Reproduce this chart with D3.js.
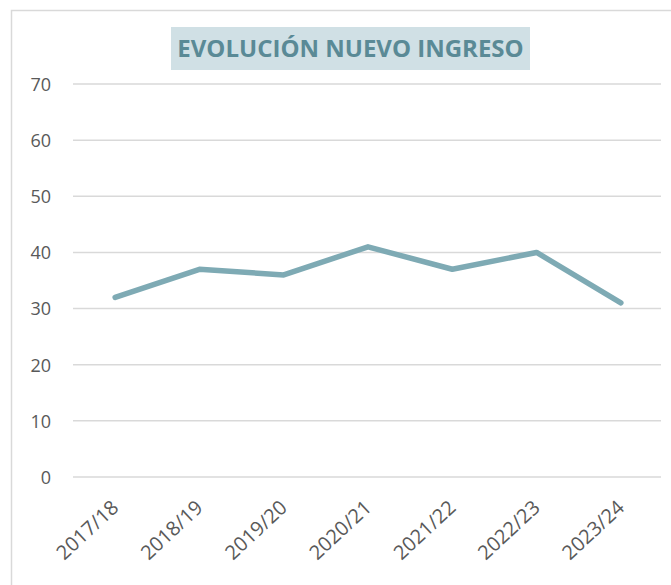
<!DOCTYPE html>
<html><head><meta charset="utf-8">
<script src="https://cdn.jsdelivr.net/npm/d3@7/dist/d3.min.js"></script>
<style>body{margin:0;background:#fff}svg{display:block}</style>
</head><body>
<svg id="c" width="671" height="585"></svg>
<script>
const categories = ["2017/18","2018/19","2019/20","2020/21","2021/22","2022/23","2023/24"];
const values = [32, 37, 36, 41, 37, 40, 31];
const yTicks = [0,10,20,30,40,50,60,70];
const title = "EVOLUCIÓN NUEVO INGRESO";

const svg = d3.select("#c");
const font = "'Open Sans', 'Noto Sans', sans-serif";

// chart border (left & top visible)
svg.append("path").attr("d","M11.5,590 V10.5 H680").attr("fill","none").attr("stroke","#d9d9d9").attr("stroke-width",1.5);

const x = d3.scaleBand().domain(categories).range([73,663]);
const y = d3.scaleLinear().domain([0,70]).range([477,84]);

// gridlines
svg.append("g").selectAll("line").data(yTicks).join("line")
  .attr("x1",73).attr("x2",661)
  .attr("y1",d=>y(d)).attr("y2",d=>y(d))
  .attr("stroke","#d9d9d9").attr("stroke-width",1.5);

// y axis labels
const yAxis = svg.append("g").attr("transform","translate(51,0)")
  .call(d3.axisLeft(y).tickValues(yTicks).tickSize(0).tickPadding(0));
yAxis.select(".domain").remove();
yAxis.selectAll("text").attr("font-family",font).attr("font-size",18).attr("fill","#595959").attr("dy","0.35em");

// x axis labels
const xAxis = svg.append("g").attr("transform","translate(0,477)")
  .call(d3.axisBottom(x).tickSize(0).tickPadding(0));
xAxis.select(".domain").remove();
xAxis.selectAll("text")
  .attr("font-family",font).attr("font-size",20).attr("fill","#595959")
  .attr("text-anchor","end")
  .attr("transform","translate(0,27) rotate(-43)")
  .attr("dy","0.35em").attr("y",0);

// line
const line = d3.line().x((d,i)=>x(categories[i])+x.bandwidth()/2).y(d=>y(d));
svg.append("path").datum(values).attr("d",line)
  .attr("fill","none").attr("stroke","#7eaab4").attr("stroke-width",5.5)
  .attr("stroke-linecap","round").attr("stroke-linejoin","round");

// title
svg.append("rect").attr("x",171).attr("y",27).attr("width",359).attr("height",43).attr("fill","#d0e0e5");
svg.append("text").attr("x",350.5).attr("y",49).attr("text-anchor","middle").attr("dy","0.35em")
  .attr("font-family",font).attr("font-weight","bold").attr("font-size",24)
  .attr("fill","#5a8a96").text(title);
</script>
</body></html>
